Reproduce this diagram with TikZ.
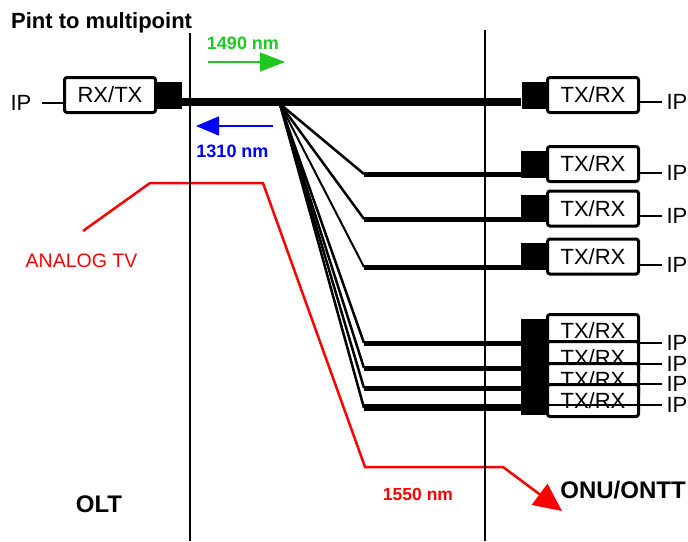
\documentclass[tikz,border=0pt]{standalone}
\usepackage{fontspec}
\setmainfont{Liberation Sans}
\usetikzlibrary{arrows.meta}
\definecolor{tvred}{RGB}{255,0,0}
\definecolor{upgreen}{RGB}{30,200,30}
\definecolor{downblue}{RGB}{0,0,255}
\begin{document}
\begin{tikzpicture}[x=1pt,y=-1pt,
  trx/.style={draw, line width=3pt, rounded corners=2.5pt, fill=white,
    minimum width=91pt, minimum height=35pt, inner sep=0pt,
    font=\fontsize{22}{22}\selectfont},
  trxs/.style={trx, minimum height=32pt},
  blk/.style={fill=black, inner sep=0pt, minimum width=25pt, minimum height=27pt},
  iptxt/.style={font=\fontsize{22}{22}\selectfont, inner sep=0pt},
  ipline/.style={line width=1.5pt},
  trunk/.style={line width=8pt},
  branch/.style={line width=5pt},
  fan/.style={line width=2.5pt},
  vline/.style={line width=2pt},
  lbl/.style={inner sep=0pt, anchor=base},
  tvline/.style={tvred, line width=2.5pt, line join=miter},
  wave/.style={line width=1.5pt}
]
\useasboundingbox (0,0) rectangle (688,541);

% analog TV red path (under the vertical lines)
\coordinate (tv0) at (83,231);
\coordinate (tv1) at (150,183);
\coordinate (tv2) at (263,183);
\coordinate (tv3) at (365,467);
\coordinate (tv4) at (503,467);
\coordinate (tv5) at (562,511);
\draw[tvline, -{Triangle[length=28pt,width=26pt]}] (tv0) -- (tv1) -- (tv2) -- (tv3) -- (tv4) -- (tv5);

% vertical separators
\coordinate (vlt) at (190,33);
\coordinate (vlb) at (190,541);
\coordinate (vrt) at (485,30);
\coordinate (vrb) at (485,541);
\draw[vline] (vlt) -- (vlb);
\draw[vline] (vrt) -- (vrb);

% title
\node[lbl, anchor=base west, font=\bfseries\fontsize{22}{22}\selectfont] (title) at (11,28) {Pint to multipoint};

% OLT side
\node[trx] (lbox) at (110,95) {RX/TX};
\node[blk] (lblk) at (169.5,95.5) {};
\node[iptxt] (ipL) at (21,103) {IP};
\draw[ipline] ([xshift=10pt]ipL.east) -- (ipL.east -| lbox.west);

% top ONU
\node[blk] (rblk) at (534,95.5) {};
\node[trx] (rbox) at (593,95) {TX/RX};
\node[iptxt] (ipR) at (677,102) {IP};
\draw[ipline] (ipR.west -| rbox.east) -- ([xshift=-4pt]ipR.west);

% trunk
\draw[trunk] ([yshift=-6pt]lblk.east) -- ([yshift=-6pt]rblk.west);
\coordinate (sp) at (280,104);

% wavelength arrows
\coordinate (g0) at (208,62);
\coordinate (g1) at (285,62);
\draw[upgreen, wave, -{Triangle[length=25pt,width=19pt]}] (g0) -- (g1);
\node[lbl, text=upgreen, font=\bfseries\fontsize{18}{18}\selectfont] (t1490) at (243,49.5) {1490 nm};
\coordinate (b0) at (273,126);
\coordinate (b1) at (196,126);
\draw[downblue, wave, -{Triangle[length=23pt,width=19pt]}] (b0) -- (b1);
\node[lbl, text=downblue, font=\bfseries\fontsize{18}{18}\selectfont] (t1310) at (232.5,157) {1310 nm};

% single ONUs
\foreach \i/\by/\ly/\iy/\w in {1/164/174/173/2.5, 2/208.5/219/216/2.5, 3/256.5/267/265/2}{
  \node[blk] (ob\i) at (533.5,\by) {};
  \node[trx] (ox\i) at (593,\by) {TX/RX};
  \node[iptxt] (oip\i) at (677,\iy) {IP};
  \coordinate (f\i) at (364,\ly);
  \draw[fan, line width=\w pt] (sp) -- (f\i);
  \draw[branch] (f\i) -- (f\i -| ob\i.west);
  \draw[ipline] (oip\i.west -| ox\i.east) -- ([xshift=-4pt]oip\i.west);
}

% stacked ONUs
\node[blk, minimum height=96pt] (sblk) at (533.5,367) {};
\node[trxs] (sa) at (593,330.5) {\raisebox{-4pt}{TX/RX}};
\node[trxs] (sb) at (593,357.5) {TX/RX};
\node[trxs] (sc) at (593,379.5) {TX/RX};
\node[trxs] (sd) at (593,400.5) {TX/RX};
\foreach \n/\ly/\iy in {a/343/343, b/368/364, c/388/384, d/408/405}{
  \coordinate (s\n) at (364,\ly);
  \draw[fan] (sp) -- (s\n);
  \draw[branch] (s\n) -- (s\n -| sblk.west);
  \node[iptxt] (sip\n) at (677,\iy) {IP};
  \draw[ipline] (sip\n.west -| sd.east) -- ([xshift=-4pt]sip\n.west);
}

% labels
\node[lbl, text=tvred, font=\fontsize{19.5}{19.5}\selectfont] (tv) at (81.5,267) {ANALOG TV};
\node[lbl, text=tvred, font=\bfseries\fontsize{17.5}{17.5}\selectfont] (t1550) at (418,500) {1550 nm};
\node[lbl, font=\bfseries\fontsize{24}{24}\selectfont] (olt) at (99,512) {OLT};
\node[lbl, font=\bfseries\fontsize{24}{24}\selectfont] (onu) at (623,498) {ONU/ONTT};
\end{tikzpicture}
\end{document}
